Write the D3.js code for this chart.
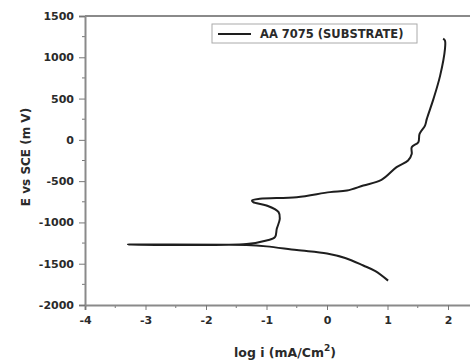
<!DOCTYPE html>
<html>
<head>
<meta charset="utf-8">
<script src="https://cdn.jsdelivr.net/npm/d3@7"></script>
<style>
  body { margin: 0; background: #fff; }
  svg text { font-family: "DejaVu Sans", sans-serif; font-weight: bold; fill: #2a2a2a; }
</style>
</head>
<body>
<div id="chart"></div>
<script>
// polarization scan, cathodic end -> Ecorr spike -> anodic end
var logI = [1.01, 0.8, 0.6, 0.3, 0.0, -0.5, -1.0, -1.33, -3.29, -1.33, -1.0, -0.86, -0.83, -0.78, -0.80, -1.0, -1.22, -1.24, -1.11, -0.5, 0.05, 0.33, 0.6, 0.9, 1.15, 1.34, 1.40, 1.40, 1.51, 1.53, 1.62, 1.65, 1.76, 1.87, 1.95, 1.95, 1.92];
var potential = [-1705, -1590, -1522, -1430, -1375, -1335, -1290, -1274, -1268, -1262, -1219, -1178, -1078, -956, -875, -795, -754, -735, -714, -694, -633, -614, -553, -485, -331, -250, -170, -89, -28, 73, 173, 254, 496, 778, 1102, 1202, 1225];
var xTicks = [-4, -3, -2, -1, 0, 1, 2];
var yTicks = [1500, 1000, 500, 0, -500, -1000, -1500, -2000];
var seriesName = "AA 7075 (SUBSTRATE)";

var width = 470, height = 362;
var margin = {left: 85, top: 16, bottom: 57};

var svg = d3.select("#chart").append("svg")
  .attr("width", width)
  .attr("height", height);

var x = d3.scaleLinear().domain([-4, 2.5]).range([margin.left, margin.left + 6.5 * 60.5]);
var y = d3.scaleLinear().domain([-2000, 1500]).range([height - margin.bottom, margin.top]);

// plain hyphen minus like the original
var fmt = function (d) { return String(d); };

// top frame line
svg.append("line")
  .attr("x1", x(-4)).attr("x2", x(2.5))
  .attr("y1", y(1500)).attr("y2", y(1500))
  .attr("stroke", "#8a8a8a").attr("stroke-width", 2);

// minor ticks
var xMinor = d3.range(-3.5, 2.6, 1);
var yMinor = d3.range(-1750, 1500, 500);

svg.append("g").selectAll("line").data(xMinor).enter().append("line")
  .attr("x1", function (d) { return x(d); }).attr("x2", function (d) { return x(d); })
  .attr("y1", y(-2000)).attr("y2", y(-2000) + 3)
  .attr("stroke", "#777").attr("stroke-width", 1);

svg.append("g").selectAll("line").data(yMinor).enter().append("line")
  .attr("y1", function (d) { return y(d); }).attr("y2", function (d) { return y(d); })
  .attr("x1", x(-4) - 3).attr("x2", x(-4))
  .attr("stroke", "#777").attr("stroke-width", 1);

var xAxis = svg.append("g")
  .attr("transform", "translate(0," + y(-2000) + ")")
  .call(d3.axisBottom(x).tickValues(xTicks).tickSize(5).tickPadding(6).tickFormat(fmt));

var yAxis = svg.append("g")
  .attr("transform", "translate(" + x(-4) + ",0)")
  .call(d3.axisLeft(y).tickValues(yTicks).tickSize(6).tickPadding(5).tickFormat(fmt));

[xAxis, yAxis].forEach(function (ax) {
  ax.select(".domain").attr("stroke", "#8a8a8a").attr("stroke-width", 2);
  ax.selectAll(".tick line").attr("stroke", "#777");
  ax.selectAll(".tick text").attr("font-size", 11)
    .style("font-family", "DejaVu Sans, sans-serif").style("font-weight", "bold").attr("fill", "#2a2a2a");
});

// axis titles
svg.append("text")
  .attr("transform", "translate(30," + 157 + ") rotate(-90)")
  .attr("text-anchor", "middle")
  .attr("font-size", 12)
  .text("E vs SCE (m V)");

var xt = svg.append("text")
  .attr("x", 285).attr("y", 357)
  .attr("text-anchor", "middle")
  .attr("font-size", 12.5);
xt.append("tspan").text("log i (mA/Cm");
xt.append("tspan").attr("dy", -6).attr("font-size", 9).text("2");
xt.append("tspan").attr("dy", 6).text(")");

// curve
var pts = logI.map(function (d, i) { return [d, potential[i]]; });
var line = d3.line()
  .x(function (d) { return x(d[0]); })
  .y(function (d) { return y(d[1]); })
  .curve(d3.curveCatmullRom.alpha(0.5));

svg.append("path")
  .datum(pts)
  .attr("d", line)
  .attr("fill", "none")
  .attr("stroke", "#1e1e1e")
  .attr("stroke-width", 2)
  .attr("stroke-linejoin", "round");

// legend
var lg = svg.append("g").attr("transform", "translate(212,24)");
lg.append("rect")
  .attr("width", 205).attr("height", 19)
  .attr("fill", "#fff").attr("stroke", "#aaa").attr("stroke-width", 1);
lg.append("line")
  .attr("x1", 6).attr("x2", 39).attr("y1", 10).attr("y2", 10)
  .attr("stroke", "#1e1e1e").attr("stroke-width", 2);
lg.append("text")
  .attr("x", 48).attr("y", 14)
  .attr("font-size", 11.5)
  .text(seriesName);
</script>
</body>
</html>
